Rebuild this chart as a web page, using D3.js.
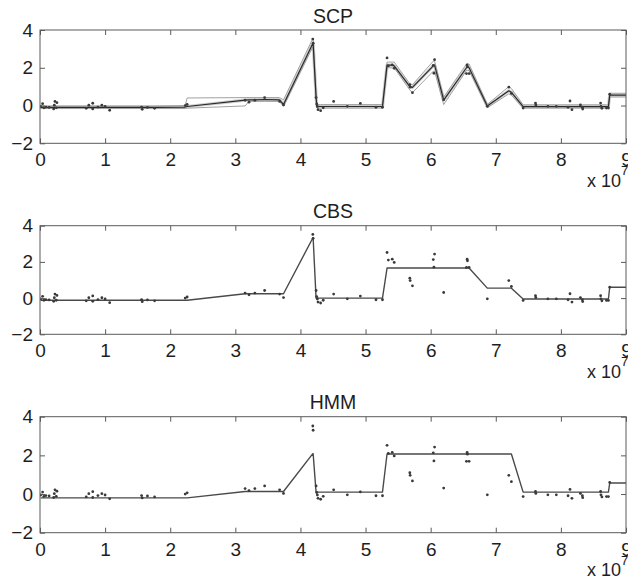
<!DOCTYPE html>
<html>
<head>
<meta charset="utf-8">
<script src="https://cdn.jsdelivr.net/npm/d3@7"></script>
<style>
  html, body { margin: 0; padding: 0; background: #fff; }
  svg { display: block; font-family: "Liberation Sans", Arial, Helvetica, sans-serif; }
</style>
</head>
<body>
<svg id="chart" width="628" height="579"></svg>
<script>
// Probe positions along the chromosome (units of 1e7 bp) and their log ratios
const posE7 = [
  0.01, 0.04, 0.06, 0.09, 0.14, 0.21, 0.22, 0.23, 0.25, 0.26,
  0.71, 0.75, 0.81, 0.81, 0.89, 0.95, 1.00, 1.07, 1.56, 1.57,
  1.65, 1.76, 2.23, 2.26, 3.15, 3.21, 3.30, 3.45, 3.68, 3.74,
  4.19, 4.195, 4.24, 4.25, 4.26, 4.27, 4.31, 4.35, 4.51, 4.72,
  4.92, 5.16, 5.26, 5.33, 5.35, 5.41, 5.44, 5.68, 5.685, 5.72,
  6.04, 6.05, 6.06, 6.20, 6.55, 6.56, 6.565, 6.59, 6.87, 7.20,
  7.24, 7.42, 7.61, 7.615, 7.80, 7.93, 8.11, 8.14, 8.17, 8.30,
  8.33, 8.335, 8.61, 8.615, 8.63, 8.70, 8.73, 8.75, 9.20
];
const logRatio = [
  -0.05, 0.10, -0.12, -0.08, -0.10, -0.18, 0.02, 0.22, -0.12, 0.15,
  -0.15, 0.02, 0.12, -0.18, -0.08, 0.02, -0.05, -0.25, -0.08, -0.20,
  -0.10, -0.15, 0.00, 0.06, 0.28, 0.18, 0.28, 0.42, 0.22, 0.03,
  3.52, 3.30, 0.42, 0.08, -0.05, -0.22, -0.27, -0.12, 0.22, -0.04,
  0.11, -0.09, -0.09, 2.52, 2.10, 2.15, 1.97, 1.10, 0.97, 0.68,
  2.13, 1.71, 2.43, 0.31, 1.69, 2.15, 2.06, 1.69, -0.04, 0.97,
  0.64, -0.13, 0.13, 0.03, -0.04, -0.04, -0.09, 0.24, -0.22, 0.03,
  -0.09, -0.19, 0.13, -0.04, -0.15, -0.13, -0.13, 0.60, 0.60
];

// SCP: posterior fit with lower and upper bounds, one value per probe
const scpFit = [
  -0.10, -0.10, -0.10, -0.10, -0.10, -0.10, -0.10, -0.10, -0.10, -0.10,
  -0.10, -0.10, -0.10, -0.10, -0.10, -0.10, -0.10, -0.10, -0.10, -0.10,
  -0.10, -0.10, -0.08, -0.05, 0.29, 0.30, 0.30, 0.32, 0.30, 0.05,
  3.29, 3.29, 0.46, 0.02, -0.05, -0.05, -0.05, -0.05, -0.05, -0.05,
  -0.05, -0.05, -0.05, 2.14, 2.14, 2.14, 2.10, 1.00, 1.00, 0.96,
  2.10, 2.12, 2.14, 0.29, 2.00, 2.05, 2.05, 2.00, -0.03, 0.78,
  0.70, -0.06, -0.06, -0.06, -0.06, -0.06, -0.06, -0.06, -0.06, -0.06,
  -0.06, -0.06, -0.06, -0.06, -0.06, -0.06, -0.06, 0.55, 0.55
];
const scpLow = [
  -0.16, -0.16, -0.16, -0.16, -0.16, -0.16, -0.16, -0.16, -0.16, -0.16,
  -0.16, -0.16, -0.16, -0.16, -0.16, -0.16, -0.16, -0.16, -0.16, -0.16,
  -0.16, -0.16, -0.16, -0.14, -0.02, 0.22, 0.22, 0.22, 0.22, -0.04,
  3.10, 3.10, 0.35, -0.08, -0.14, -0.14, -0.14, -0.14, -0.14, -0.14,
  -0.14, -0.14, -0.14, 2.00, 2.00, 2.00, 2.00, 0.82, 0.82, 0.68,
  1.82, 1.82, 1.82, 0.05, 1.85, 1.85, 1.85, 1.85, -0.12, 0.62,
  0.55, -0.14, -0.14, -0.14, -0.14, -0.14, -0.14, -0.14, -0.14, -0.14,
  -0.14, -0.14, -0.14, -0.14, -0.14, -0.14, -0.14, 0.45, 0.45
];
const scpHigh = [
  -0.02, -0.02, -0.02, -0.02, -0.02, -0.02, -0.02, -0.02, -0.02, -0.02,
  -0.02, -0.02, -0.02, -0.02, -0.02, -0.02, -0.02, -0.02, -0.02, -0.02,
  -0.02, -0.02, 0.00, 0.40, 0.42, 0.42, 0.42, 0.42, 0.42, 0.30,
  3.55, 3.55, 0.60, 0.12, 0.05, 0.05, 0.05, 0.05, 0.05, 0.05,
  0.05, 0.05, 0.05, 2.30, 2.30, 2.30, 2.30, 1.15, 1.15, 1.10,
  2.35, 2.35, 2.35, 0.45, 2.20, 2.20, 2.20, 2.20, 0.06, 1.00,
  0.90, 0.04, 0.04, 0.04, 0.04, 0.04, 0.04, 0.04, 0.04, 0.04,
  0.04, 0.04, 0.04, 0.04, 0.04, 0.04, 0.04, 0.65, 0.65
];

// CBS and HMM: segment lengths (number of probes) and segment levels
const cbsSegLen  = [24, 6, 2, 11, 15, 3, 16, 2];
const cbsSegMean = [-0.12, 0.24, 3.32, 0.00, 1.66, 0.55, -0.05, 0.60];
const hmmSegLen  = [24, 6, 2, 11, 18, 16, 2];
const hmmSegMean = [-0.20, 0.13, 2.09, 0.10, 2.07, 0.10, 0.57];

// Axis settings
const xDomain = [0, 9];
const yDomain = [-2, 4];
const xTicks = [0, 1, 2, 3, 4, 5, 6, 7, 8, 9];
const yTicks = [-2, 0, 2, 4];
const panelTitles = ["SCP", "CBS", "HMM"];

// Expand segment runs into one fitted value per probe
function expandSegments(lens, means) {
  const out = [];
  lens.forEach((n, i) => { for (let k = 0; k < n; k++) out.push(means[i]); });
  return out;
}
const cbsFit = expandSegments(cbsSegLen, cbsSegMean);
const hmmFit = expandSegments(hmmSegLen, hmmSegMean);

const svg = d3.select("#chart");
const left = 40, right = 626;
const frames = [
  { top: 30,    bottom: 143.3 },
  { top: 225.7, bottom: 334.3 },
  { top: 416.7, bottom: 532.7 }
];

const axisColor = "#5a5a5a";
const textColor = "#1e1e1e";
const intFmt = d3.format("d");

frames.forEach((f, pi) => {
  const g = svg.append("g");
  const x = d3.scaleLinear().domain(xDomain).range([left, right]);
  const y = d3.scaleLinear().domain(yDomain).range([f.bottom, f.top]);

  const clipId = "clip" + pi;
  svg.append("clipPath").attr("id", clipId)
    .append("rect")
    .attr("x", left).attr("y", f.top)
    .attr("width", right - left).attr("height", f.bottom - f.top);

  const plot = g.append("g").attr("clip-path", `url(#${clipId})`);
  const line = d3.line().x((d, i) => x(posE7[i])).y(d => y(d));

  if (pi === 0) {
    plot.append("path").datum(scpFit).attr("d", line)
      .attr("fill", "none").attr("stroke", "#cdcdcd").attr("stroke-width", 3.2)
      .attr("stroke-linejoin", "round");
    [scpLow, scpHigh].forEach(arr => {
      plot.append("path").datum(arr).attr("d", line)
        .attr("fill", "none").attr("stroke", "#a0a0a0").attr("stroke-width", 1)
        .attr("stroke-linejoin", "round");
    });
    plot.append("path").datum(scpFit).attr("d", line)
      .attr("fill", "none").attr("stroke", "#2a2a2a").attr("stroke-width", 1.2)
      .attr("stroke-linejoin", "round");
  } else {
    const fit = pi === 1 ? cbsFit : hmmFit;
    plot.append("path").datum(fit).attr("d", line)
      .attr("fill", "none").attr("stroke", "#4a4a4a").attr("stroke-width", 1.4)
      .attr("stroke-linejoin", "round");
  }

  // probe log ratios
  plot.selectAll("circle.pt").data(logRatio).join("circle")
    .attr("class", "pt")
    .attr("cx", (d, i) => x(posE7[i]))
    .attr("cy", d => y(d))
    .attr("r", 1.4)
    .attr("fill", "#3a3a3a");

  // axes with inward ticks on all four sides
  const styleAxis = sel => {
    sel.select(".domain").remove();
    sel.selectAll(".tick line").attr("stroke", axisColor);
    sel.selectAll(".tick text").attr("fill", textColor).style("font-size", "19px");
  };
  g.append("g").attr("transform", `translate(0,${f.bottom})`)
    .call(d3.axisBottom(x).tickValues(xTicks).tickSize(-5).tickPadding(9.5)
      .tickFormat(intFmt))
    .call(styleAxis);
  g.append("g").attr("transform", `translate(0,${f.top})`)
    .call(d3.axisTop(x).tickValues(xTicks).tickSize(-5).tickFormat(""))
    .call(styleAxis);
  g.append("g").attr("transform", `translate(${left},0)`)
    .call(d3.axisLeft(y).tickValues(yTicks).tickSize(-5).tickPadding(7)
      .tickFormat(intFmt))
    .call(styleAxis);
  g.append("g").attr("transform", `translate(${right},0)`)
    .call(d3.axisRight(y).tickValues(yTicks).tickSize(-5).tickFormat(""))
    .call(styleAxis);

  g.append("rect")
    .attr("x", left).attr("y", f.top)
    .attr("width", right - left).attr("height", f.bottom - f.top)
    .attr("fill", "none").attr("stroke", axisColor).attr("stroke-width", 1);

  // panel title
  g.append("text")
    .attr("x", (left + right) / 2).attr("y", f.top - 7.5)
    .attr("text-anchor", "middle")
    .attr("fill", textColor)
    .style("font-size", "19.5px")
    .text(panelTitles[pi]);

  // axis multiplier
  const mult = g.append("text")
    .attr("x", 587).attr("y", f.bottom + 43.4)
    .attr("fill", textColor)
    .style("font-size", "18px");
  mult.append("tspan").text("x 10");
  mult.append("tspan").attr("dy", -11.5).style("font-size", "13px").text("7");
});
</script>
</body>
</html>
